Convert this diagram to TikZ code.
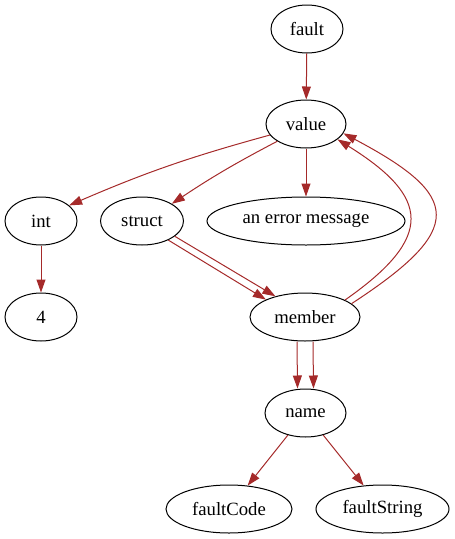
\documentclass[tikz,border=0pt]{standalone}
\usepackage{fontspec}
\setmainfont{Liberation Serif}
\usetikzlibrary{shapes.geometric,arrows.meta}
\definecolor{edgebrown}{HTML}{A52A2A}

\begin{document}
\begin{tikzpicture}[
            x=1pt, y=-1pt,
            elem/.style={draw, ellipse, line width=1pt, inner sep=0pt, minimum height=48pt, font=\fontsize{18.7}{22}\selectfont},
            edge/.style={draw=edgebrown, line width=1pt, -{Triangle[length=13pt, width=9pt, fill=edgebrown]}}
        ]
            \useasboundingbox (0,0) rectangle (455,539);

% Nodes positioned manually (graph layout)
            \node (fault) [elem, minimum width=72pt] at (307,29) {fault};
            \node (value) [elem, minimum width=80pt] at (306,124) {value};

            \node (int) [elem, minimum width=72pt] at (41,221) {int};
            \node (struct) [elem, minimum width=83pt] at (142,221) {struct};
            \node (msg) [elem, minimum width=198pt] at (306,221) {an error message};

            \node (four) [elem, minimum width=72pt] at (41,317) {4};
            \node (member) [elem, minimum width=110pt] at (305,317) {member};

            \node (name) [elem, minimum width=81pt] at (305.5,413) {name};

            \node (code) [elem, minimum width=126pt] at (229,509) {faultCode};
            \node (string) [elem, minimum width=133pt] at (382.5,509) {faultString};

% Edges from the top
            \draw [edge] (fault) -- (value);
            \draw [edge] (value.197) to[bend right=4] (int.29);
            \draw [edge] (value.211) to[bend right=3] (struct.30);
            \draw [edge] (value) -- (msg);
            \draw [edge] (int) -- (four);

% Double edges struct -> member
            \draw [edge] (struct.-36) -- (member.156);
            \draw [edge] (struct.-25) -- (member.145);

% Back edges member -> value
            \draw [edge] (member.23) .. controls (435,237) and (430,197) .. (value.-26);
            \draw [edge] (member.16) .. controls (466,229) and (462,196) .. (value.-14);

% Double edges member -> name
            \draw [edge] ([xshift=-8pt]member.south) -- ([xshift=-8pt]name.north);
            \draw [edge] ([xshift=8pt]member.south) -- ([xshift=8pt]name.north);

% Leaves
            \draw [edge] (name) -- (code);
            \draw [edge] (name) -- (string);

        \end{tikzpicture}
\end{document}
